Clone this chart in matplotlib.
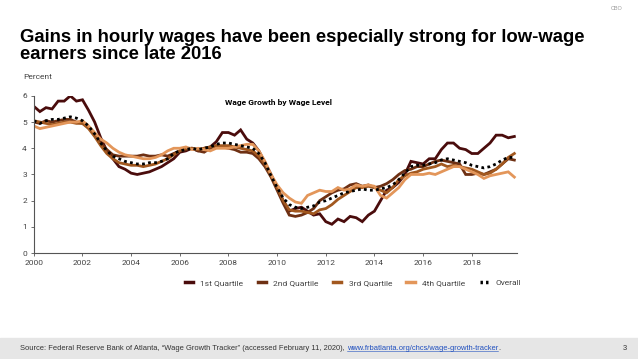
import numpy as np
import matplotlib.pyplot as plt
from matplotlib.lines import Line2D

# quarterly observations, 2000Q1 .. 2019Q4
years = 2000 + np.arange(80) * 0.25

q1 = [5.6, 5.4, 5.55, 5.5, 5.8, 5.8, 6.0, 5.8, 5.85, 5.45, 5.0, 4.4,
      3.9, 3.6, 3.3, 3.2, 3.05, 3.0, 3.05, 3.1, 3.2, 3.3, 3.45, 3.6,
      3.85, 3.9, 4.0, 3.9, 4.0, 4.05, 4.25, 4.6, 4.6, 4.5, 4.7, 4.35,
      4.2, 3.9, 3.45, 3.0, 2.5, 2.0, 1.6, 1.7, 1.75, 1.6, 1.45, 1.5,
      1.2, 1.1, 1.3, 1.2, 1.4, 1.35, 1.2, 1.45, 1.6, 2.0, 2.4, 2.5,
      2.7, 3.0, 3.5, 3.45, 3.4, 3.6, 3.6, 3.95, 4.2, 4.2, 4.0, 3.95,
      3.8, 3.8, 4.0, 4.2, 4.5, 4.5, 4.4, 4.45]
q2 = [5.0, 4.95, 5.05, 5.0, 5.05, 5.1, 5.1, 5.0, 4.95, 4.8, 4.5, 4.2,
      3.95, 3.75, 3.7, 3.7, 3.7, 3.7, 3.75, 3.7, 3.7, 3.75, 3.7, 3.8,
      3.9, 3.95, 4.0, 3.9, 3.85, 4.0, 4.1, 4.05, 4.0, 3.95, 3.85, 3.85,
      3.8, 3.6, 3.3, 2.9, 2.4, 1.9, 1.45, 1.4, 1.45, 1.55, 1.7, 2.0,
      2.15, 2.3, 2.4, 2.45, 2.6, 2.65, 2.55, 2.6, 2.5, 2.55, 2.65, 2.8,
      3.0, 3.15, 3.2, 3.3, 3.3, 3.4, 3.5, 3.55, 3.5, 3.45, 3.4, 3.0,
      3.0, 3.05, 3.0, 3.1, 3.2, 3.4, 3.6, 3.55]
q3 = [5.05, 5.0, 4.95, 4.9, 4.95, 5.0, 5.0, 4.95, 4.95, 4.75, 4.45, 4.1,
      3.8, 3.6, 3.45, 3.4, 3.35, 3.35, 3.3, 3.35, 3.4, 3.5, 3.6, 3.75,
      3.9, 4.0, 4.0, 3.95, 4.0, 4.05, 4.1, 4.1, 4.1, 4.05, 4.0, 3.95,
      3.9, 3.7, 3.4, 2.95, 2.5, 2.0, 1.65, 1.6, 1.6, 1.55, 1.5, 1.65,
      1.7, 1.85, 2.05, 2.2, 2.35, 2.5, 2.5, 2.55, 2.5, 2.4, 2.3, 2.5,
      2.8, 2.95, 3.05, 3.1, 3.2, 3.25, 3.3, 3.4, 3.3, 3.35, 3.3, 3.25,
      3.2, 3.1, 3.0, 3.05, 3.2, 3.4, 3.65, 3.8]
q4 = [4.85, 4.75, 4.8, 4.85, 4.9, 4.95, 5.0, 5.0, 5.05, 4.85, 4.6, 4.35,
      4.2, 4.0, 3.85, 3.75, 3.7, 3.65, 3.6, 3.6, 3.65, 3.75, 3.9, 4.0,
      4.0, 4.05, 3.95, 4.0, 3.95, 3.9, 4.0, 4.0, 4.0, 4.05, 4.1, 4.15,
      4.15, 3.9, 3.5, 3.0, 2.6, 2.3, 2.1, 1.95, 1.9, 2.2, 2.3, 2.4,
      2.35, 2.35, 2.5, 2.4, 2.45, 2.6, 2.55, 2.6, 2.55, 2.2, 2.1, 2.3,
      2.5, 2.8, 3.0, 3.0, 3.0, 3.05, 3.0, 3.1, 3.2, 3.3, 3.3, 3.2,
      3.1, 3.0, 2.85, 2.95, 3.0, 3.05, 3.1, 2.9]
overall = [5.05, 4.95, 5.05, 5.1, 5.1, 5.15, 5.2, 5.15, 5.05, 4.85, 4.55, 4.2,
           3.9, 3.7, 3.6, 3.5, 3.45, 3.4, 3.4, 3.45, 3.45, 3.5, 3.6, 3.8,
           3.9, 3.95, 4.0, 3.95, 4.0, 4.05, 4.15, 4.2, 4.2, 4.15, 4.1, 4.05,
           4.0, 3.8, 3.45, 2.95, 2.5, 2.1, 1.85, 1.75, 1.7, 1.75, 1.8, 1.95,
           2.0, 2.1, 2.2, 2.3, 2.35, 2.4, 2.45, 2.4, 2.4, 2.45, 2.5, 2.6,
           2.8, 3.05, 3.3, 3.35, 3.35, 3.4, 3.45, 3.55, 3.6, 3.55, 3.5, 3.45,
           3.35, 3.3, 3.25, 3.3, 3.4, 3.55, 3.65, 3.65]

series_names = ['1st Quartile', '2nd Quartile', '3rd Quartile', '4th Quartile', 'Overall']
series_data = [q1, q2, q3, q4, overall]
colors = ['#4a0c0c', '#6e3013', '#a2581f', '#e3965a', '#000000']
x_ticks = list(range(2000, 2020, 2))

fig = plt.figure(figsize=(6.38, 3.59), dpi=100)
ax = fig.add_axes([0.053, 0.295, 0.757, 0.438])

for name, vals, col in zip(series_names[:4], series_data[:4], colors[:4]):
    ax.plot(years, vals, color=col, lw=2.0, solid_joinstyle='miter', label=name)
ax.plot(years, overall, color='black', lw=2.0, linestyle=(0, (1, 1.2)), label='Overall')

ax.set_xlim(2000, 2019.85)
ax.set_ylim(0, 6)
ax.set_xticks(x_ticks)
ax.set_yticks(range(0, 7))
for s in ['top', 'right']:
    ax.spines[s].set_visible(False)
for s in ['left', 'bottom']:
    ax.spines[s].set_color('#555555')
    ax.spines[s].set_linewidth(0.8)
ax.tick_params(axis='both', labelsize=6, colors='#555555', length=2.5, width=0.6, pad=2.5)
for lab in ax.get_xticklabels() + ax.get_yticklabels():
    lab.set_fontfamily('Roboto')
    lab.set_color('#444444')

ax.text(0.395, 0.96, 'Wage Growth by Wage Level', transform=ax.transAxes,
        fontsize=6, fontweight='bold', fontfamily='Roboto', ha='left', va='center')
fig.text(0.036, 0.786, 'Percent', fontsize=6, fontfamily='Roboto', color='#444444', va='center')

# legend
handles = [Line2D([], [], color=c, lw=2.5) for c in colors[:4]]
handles.append(Line2D([], [], color='black', lw=2.5, linestyle=(0, (0.7, 0.9))))
leg = fig.legend(handles, series_names, loc='center', bbox_to_anchor=(0.553, 0.212), ncol=5,
                 frameon=False, handlelength=1.0, handletextpad=0.9,
                 columnspacing=1.7, prop={'family': 'Roboto', 'size': 6})
for t in leg.get_texts():
    t.set_color('#444444')

# title
fig.text(0.031, 0.871, 'Gains in hourly wages have been especially strong for low-wage\nearners since late 2016',
         fontsize=13.3, fontweight='bold', fontfamily='Liberation Sans', va='center', ha='left',
         linespacing=1.0)
fig.text(0.975, 0.975, 'CBO', fontsize=4, color='#999999', fontfamily='Liberation Sans',
         ha='right', va='center')

# footer band
fig.patches.append(plt.Rectangle((0, 0), 1, 0.058, transform=fig.transFigure,
                                 color='#e6e6e6', zorder=0))
src = fig.text(0.031, 0.029, 'Source: Federal Reserve Bank of Atlanta, \u201cWage Growth Tracker\u201d (accessed February 11, 2020), ',
               fontsize=5.4, fontfamily='Liberation Sans', va='center', color='#333333')
fig.canvas.draw()
bb = src.get_window_extent().transformed(fig.transFigure.inverted())
link = fig.text(bb.x1, 0.029, 'www.frbatlanta.org/chcs/wage-growth-tracker', fontsize=5.4,
                fontfamily='Liberation Sans', va='center', color='#1f4fbf')
fig.canvas.draw()
lb = link.get_window_extent().transformed(fig.transFigure.inverted())
fig.add_artist(Line2D([lb.x0, lb.x1], [lb.y0 + 0.003, lb.y0 + 0.003], color='#1f4fbf', lw=0.4,
                      transform=fig.transFigure))
fig.text(lb.x1, 0.029, '.', fontsize=5.4, fontfamily='Liberation Sans', va='center', color='#333333')
fig.text(0.983, 0.029, '3', fontsize=5.4, fontfamily='Liberation Sans', va='center', ha='right',
         color='#333333')

fig.savefig('out.png', dpi=100)
